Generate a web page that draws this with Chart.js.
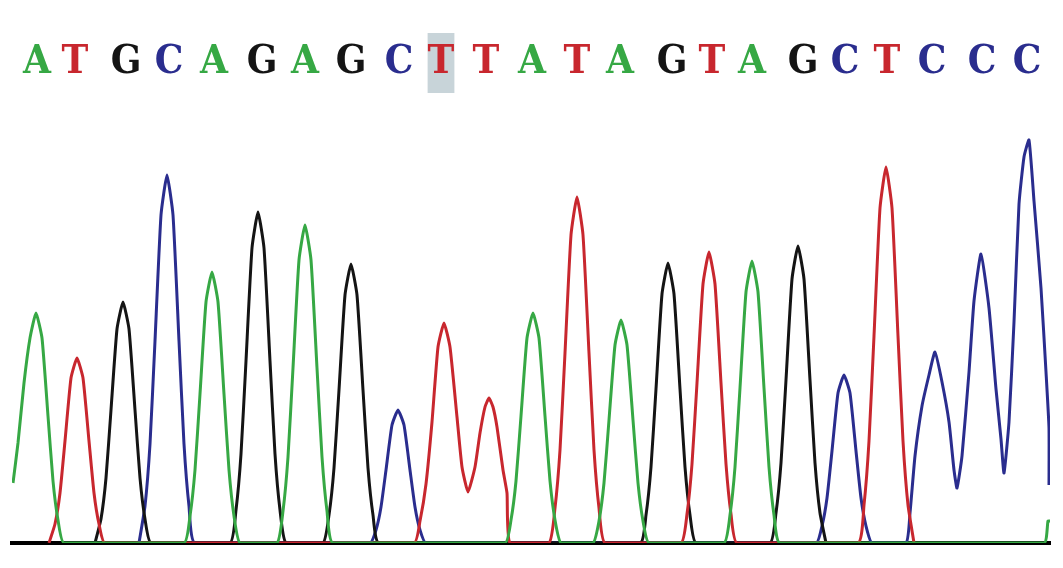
<!DOCTYPE html>
<html>
<head>
<meta charset="utf-8">
<script src="https://cdn.jsdelivr.net/npm/chart.js@4/dist/chart.umd.min.js"></script>
<style>
  html, body { margin: 0; padding: 0; background: #fff; }
  #chart { display: block; }
</style>
</head>
<body>
<canvas id="chart" width="1063" height="568"></canvas>
<script>
// called bases and where they sit along the trace
const bases = ['A','T','G','C','A','G','A','G','C','T','T','A','T','A','G','T','A','G','C','T','C','C','C']
const basePos = [37, 75, 126, 169, 214, 262, 305, 351, 399, 441, 486, 532, 577, 620, 672, 712, 752, 803, 845, 887, 932, 982, 1027]
const flagged = 9 // the boxed T

// trace points [scan, signal], one list per dye
const traceA = [
  [13,60],[18,100],[24,160],[30,205],[36,230],[42,205],[48,127],[53,62],[58,23],[64,0],
  [184,0],[190,27],[195,73],[200,149],[206,241],[212,271],[218,241],[224,149],[229,73],[234,27],[240,0],
  [277,0],[283,32],[288,86],[293,175],[299,283],[305,318],[311,283],[317,175],[322,86],[327,32],[333,0],
  [505,0],[511,23],[516,62],[521,127],[527,205],[533,230],[539,205],[545,127],[550,62],[555,23],[561,0],
  [593,0],[599,22],[604,60],[609,123],[615,198],[621,223],[627,198],[633,123],[638,60],[643,22],[649,0],
  [724,0],[730,28],[735,76],[740,155],[746,251],[752,282],[758,251],[764,155],[769,76],[774,28],[780,0],
  [1044,0],[1048,22],[1050,22]
]
const traceT = [
  [49,0],[55,19],[60,50],[65,102],[71,165],[77,185],[83,165],[89,102],[94,50],[99,19],[105,0],
  [414,0],[420,22],[426,59],[432,121],[438,196],[444,220],[450,196],[457,126],[462,76],[468,51],
  [475,76],[480,110],[485,136],[489,145],[493,136],[497,116],[503,73],[507,50],[510,0],
  [549,0],[555,35],[560,93],[565,190],[571,308],[577,346],[583,308],[589,190],[594,93],[599,35],[605,0],
  [681,0],[687,29],[692,79],[697,160],[703,259],[709,291],[715,259],[721,160],[726,79],[731,29],[737,0],
  [858,0],[864,38],[869,102],[874,207],[880,335],[886,376],[892,335],[898,207],[903,102],[908,38],[914,0]
]
const traceG = [
  [95,0],[101,24],[106,65],[111,133],[117,214],[123,241],[129,214],[135,133],[140,65],[145,24],[151,0],
  [230,0],[236,33],[241,89],[246,182],[252,295],[258,331],[264,295],[270,182],[275,89],[280,33],[286,0],
  [323,0],[329,28],[334,75],[339,153],[345,248],[351,279],[357,248],[363,153],[368,75],[373,28],[379,0],
  [640,0],[646,28],[651,76],[656,154],[662,249],[668,280],[674,249],[680,154],[685,76],[690,28],[696,0],
  [770,0],[776,30],[781,80],[786,163],[792,264],[798,297],[804,264],[810,163],[815,80],[820,30],[826,0]
]
const traceC = [
  [139,0],[145,37],[150,99],[155,202],[161,328],[167,368],[173,328],[179,202],[184,99],[189,37],[195,0],
  [370,0],[376,13],[381,36],[386,73],[392,118],[398,133],[404,118],[410,73],[415,36],[420,13],[426,0],
  [816,0],[822,17],[827,45],[832,92],[838,150],[844,168],[850,150],[856,92],[861,45],[866,17],[872,0],
  [906,0],[910,30],[915,87],[922,137],[929,168],[935,191],[942,161],[949,121],[954,73],[957,55],
  [962,87],[969,171],[974,242],[981,289],[989,235],[996,154],[1001,104],[1004,70],
  [1009,121],[1014,221],[1019,339],[1024,386],[1029,403],[1034,342],[1041,255],[1046,171],[1049,115],[1049,58]
]

const dyeColor = { A: '#36a844', T: '#c8272e', G: '#141414', C: '#2a2d8e' }

const toXY = list => list.map(p => ({ x: p[0], y: p[1] }))

function traceSet(base, list) {
  return {
    label: base,
    data: toXY(list),
    borderColor: dyeColor[base],
    borderWidth: 3,
    pointRadius: 0,
    tension: 0.15,
    fill: false
  }
}

// stop the axes from pushing the plot inwards for their labels
function noSidePad(s) {
  s.paddingLeft = 0
  s.paddingRight = 0
}

new Chart(document.getElementById('chart'), {
  type: 'line',
  data: {
    datasets: [
      traceSet('A', traceA),
      traceSet('T', traceT),
      traceSet('G', traceG),
      traceSet('C', traceC)
    ]
  },
  options: {
    responsive: false,
    animation: false,
    devicePixelRatio: 1,
    layout: { padding: { left: 12, right: 13, top: 0, bottom: 25 } },
    plugins: { legend: { display: false }, tooltip: { enabled: false } },
    scales: {
      x: {
        type: 'linear',
        position: 'bottom',
        min: 12,
        max: 1050,
        z: 1,
        grid: { display: false },
        ticks: { display: false },
        border: { display: true, color: '#000', width: 4 },
        afterFit: s => { s.height = 0; noSidePad(s) }
      },
      calls: {
        type: 'linear',
        axis: 'x',
        position: 'top',
        min: 12,
        max: 1050,
        grid: { display: false, drawTicks: false },
        border: { display: false },
        afterBuildTicks: s => { s.ticks = basePos.map(v => ({ value: v })) },
        afterFit: s => { s.height = 120; noSidePad(s) },
        ticks: {
          autoSkip: false,
          maxRotation: 0,
          padding: 33,
          font: { family: "'DejaVu Serif Condensed', 'DejaVu Serif', serif", size: 40, weight: 'bold' },
          color: ctx => dyeColor[bases[ctx.index]],
          callback: (v, i) => bases[i],
          showLabelBackdrop: ctx => ctx.index === flagged,
          backdropColor: 'rgba(190,204,210,0.85)',
          backdropPadding: { top: 6, bottom: 6, left: 0, right: 0 }
        }
      },
      y: {
        display: false,
        min: 0,
        max: 423
      }
    }
  }
})
</script>
</body>
</html>
